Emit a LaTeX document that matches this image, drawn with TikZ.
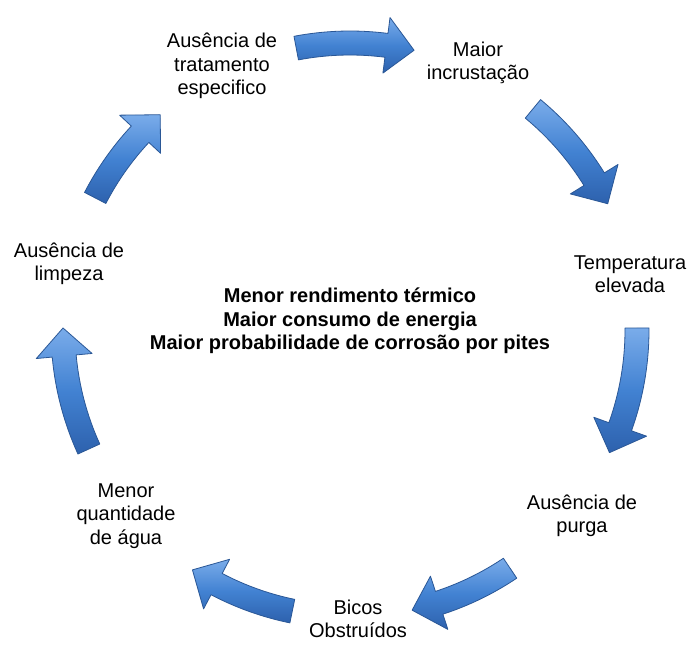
\documentclass[tikz,border=0pt]{standalone}
\usepackage{fontspec}
\setmainfont{Liberation Sans}
\usetikzlibrary{calc}
\definecolor{arrowlight}{HTML}{7AACEA}
\definecolor{arrowblue}{HTML}{4282D2}
\definecolor{arrowdark}{HTML}{2D61AD}
\definecolor{arrowedge}{HTML}{2A5796}

% curved block arrow on the ring, from angle #1 to the tip at angle #2
\newcommand{\cyclearrow}[2]{%
  \pgfmathsetmacro{\headAng}{#2+5.6}%
  \path[cycleArrow] (#1:299) arc[start angle=#1, end angle=\headAng, radius=299]
    -- (\headAng:315) -- (#2:287) -- (\headAng:259) -- (\headAng:275)
    arc[start angle=\headAng, end angle=#1, radius=275] -- cycle;}

\begin{document}
\begin{tikzpicture}[x=1pt, y=1pt,
    stepLabel/.style={align=center, inner sep=1pt, font=\fontsize{20}{23.5}\selectfont},
    centerLabel/.style={align=center, inner sep=1pt, font=\fontsize{20}{23.5}\selectfont\bfseries},
    cycleArrow/.style={draw=arrowedge, line width=0.8pt, line join=round, top color=arrowlight, bottom color=arrowdark, middle color=arrowblue}
]
    \useasboundingbox[fill=white] (0,0) rectangle (699,646);

    \node[stepLabel] (tratamento) at (222, 580) {Ausência de\\tratamento\\especifico};
    \node[stepLabel] (incrustacao) at (478, 583) {Maior\\incrustação};
    \node[stepLabel] (temperatura) at (630, 372) {Temperatura\\elevada};
    \node[stepLabel] (purga)       at (582, 130) {Ausência de\\purga};
    \node[stepLabel] (bicos)       at (358, 27)  {Bicos\\Obstruídos};
    \node[stepLabel] (agua)        at (126, 130) {Menor\\quantidade\\de água};
    \node[stepLabel] (limpeza)     at (69, 382)  {Ausência de\\limpeza};

    \node[centerLabel] (efeitos) at (350, 325) {Menor rendimento térmico\\Maior consumo de energia\\Maior probabilidade de corrosão por pites};

    \begin{scope}[shift={(350,316)}]
        \cyclearrow{100.8}{77.1}
        \cyclearrow{50.4}{26.1}
        \cyclearrow{0.4}{-25.3}
        \cyclearrow{-56.1}{-77.5}
        \cyclearrow{-101.6}{-123.3}
        \cyclearrow{204.5}{179.6}
        \cyclearrow{152.6}{131.4}
    \end{scope}
\end{tikzpicture}
\end{document}
